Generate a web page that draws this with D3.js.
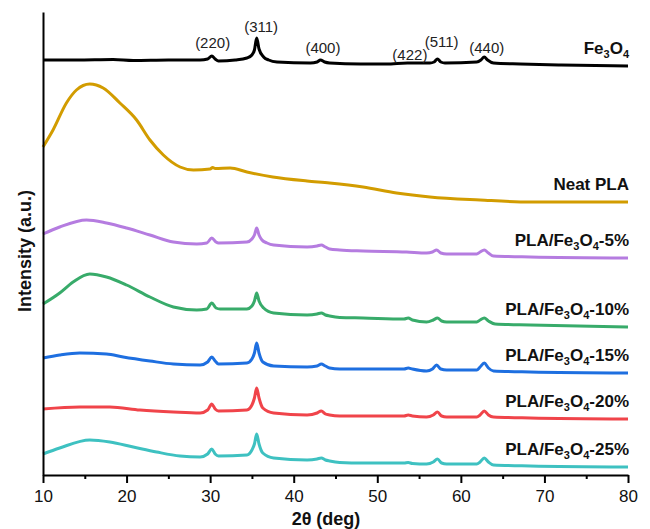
<!DOCTYPE html>
<html>
<head>
<meta charset="utf-8">
<script src="https://cdn.jsdelivr.net/npm/d3@7"></script>
<style>
  body { margin: 0; background: #fff; }
  svg { display: block; font-family: "Liberation Sans", Arial, sans-serif; }
  .axis path, .axis line { stroke: #000; stroke-width: 2; }
  .axis text { font-size: 17px; fill: #111; }
</style>
</head>
<body>
<div id="chart"></div>
<script>
// 2θ (deg) vs intensity (a.u., stacked offsets as plotted)
const fe3o4 = [[10,415],[14,415],[18.4,415.5],[20.8,414.5],[25,415],[28.8,415],[29.7,416],[30.2,419],[30.6,416],[31,414],[33,415],[34.4,417],[35,420],[35.3,425],[35.57,437],[35.85,426],[36.4,418],[37,415],[38,413],[42,412],[42.8,413],[43.2,415],[43.7,413],[44.3,412],[48,411],[51.1,411],[53.6,412],[56.3,412],[56.8,413],[57.2,416],[57.6,413],[58.1,412],[61.9,413],[62.4,415],[62.8,418],[63.2,415],[63.9,412],[67.1,411],[72,410],[80,409]];
const neatPLA = [[10,328],[11.2,345],[12.8,372],[14,385],[15.6,391],[17.2,387],[19.2,372],[21.2,355],[22.8,335],[24.4,320],[26.4,308],[28,305],[30,306],[30.3,307.5],[30.6,306.5],[32.4,307],[34.4,303],[37.5,298],[41.6,294],[44.3,292],[48.3,288],[52.3,282],[56.3,278],[62.3,275],[68.3,273],[74.3,273],[80,273]];
const pla5 = [[10,241],[12,248],[15.2,255],[17.6,252],[20,247],[22.8,240],[25.6,233],[28.4,231],[29.6,232],[30.2,237],[30.7,233],[31,232],[34.4,233],[35,236],[35.3,240],[35.57,247],[35.85,240],[36.2,235],[36.8,232],[37.6,230],[41.6,228],[42.8,229],[43.3,230],[43.8,228],[44.3,226],[45.5,225],[48.3,224],[53.5,223],[55.9,222],[56.6,223],[57.1,225],[57.6,222],[58.3,221],[61.9,221],[62.3,223],[62.8,225],[63.3,222],[63.9,219],[68.3,218],[80,217]];
const pla10 = [[10,171],[12,182],[13.6,193],[15.6,201],[17.6,198],[20,190],[22.8,178],[25.6,168],[28.4,165],[29.6,166],[30.2,172],[30.7,167],[31.2,166],[34.4,166],[35,169],[35.3,174],[35.57,182],[35.85,174],[36.4,167],[37.6,162],[41.6,160],[42.8,161],[43.3,162],[43.8,160],[44.3,159],[45.5,157.5],[48.3,157],[53.2,156],[53.7,157],[54.2,155],[55.9,153],[56.7,155],[57.2,157],[57.7,154],[58.3,153],[61.9,153],[62.3,155],[62.8,157],[63.3,154],[64.1,151],[68.3,150],[80,148]];
const pla15 = [[10,117],[12,120],[14.4,122],[17.6,121],[19.6,118],[22.8,114],[25.6,111],[28.8,110],[29.7,113],[30.2,118],[30.6,114],[31,111],[34.4,112],[35,116],[35.3,122],[35.57,132],[35.85,122],[36.3,113],[37.6,109],[41.6,108],[42.8,109],[43.3,111],[43.8,109],[44.3,107],[45.5,106],[48.3,106],[53.2,106],[53.7,107],[54.2,106],[55.9,104],[56.6,106],[57.1,110],[57.6,106],[58.3,105],[61.9,105],[62.3,108],[62.8,112],[63.3,107],[63.9,104],[68.3,103],[80,102]];
const pla20 = [[10,66],[14.4,68],[18,68],[21.6,65],[25.6,63],[28.8,62],[29.7,65],[30.2,71],[30.6,66],[31,64],[34.4,65],[35,70],[35.3,77],[35.57,87],[35.85,77],[36.3,67],[37.6,62],[41.6,60],[42.8,62],[43.3,64],[43.8,61],[44.3,60],[45.5,59],[48.3,59],[53.2,59],[53.7,60],[54.2,59],[55.9,58],[56.7,60],[57.2,63],[57.7,59],[58.3,58],[61.9,58],[62.3,60],[62.8,64],[63.3,60],[63.9,58],[68.3,57],[80,56]];
const pla25 = [[10,21],[12,27],[15.6,35],[18,33],[20.8,28],[23.6,23],[26.4,19],[28.8,18],[29.7,21],[30.2,26],[30.6,21],[31,19],[34.4,20],[35,25],[35.3,31],[35.57,41],[35.85,31],[36.3,22],[37.6,17],[41.6,15],[42.8,16],[43.3,17],[43.8,15],[44.3,14],[45.5,12.5],[48.3,12],[53.2,12],[53.7,12.5],[54.2,11.5],[55.9,11],[56.7,13],[57.2,16],[57.7,12],[58.3,11],[61.9,11],[62.3,13],[62.8,17],[63.3,13],[63.9,10],[68.3,9],[80,8]];

const seriesData = [fe3o4, neatPLA, pla5, pla10, pla15, pla20, pla25];
const seriesColors = ["#000000", "#d29c00", "#b57ce0", "#38ab6a", "#1e6fe0", "#f0444a", "#3ec1c1"];
// label: [main text, sub, text, sub, text]
const seriesLabels = [
  ["Fe", "3", "O", "4", ""],
  ["Neat PLA"],
  ["PLA/Fe", "3", "O", "4", "-5%"],
  ["PLA/Fe", "3", "O", "4", "-10%"],
  ["PLA/Fe", "3", "O", "4", "-15%"],
  ["PLA/Fe", "3", "O", "4", "-20%"],
  ["PLA/Fe", "3", "O", "4", "-25%"],
];

const hklText = ["(220)", "(311)", "(400)", "(422)", "(511)", "(440)"];
const hklAngle = [30.3, 36.1, 43.5, 53.9, 57.7, 63.1];
const hklIntensity = [427, 443, 422, 415, 428, 422];

const xTicks = [10, 20, 30, 40, 50, 60, 70, 80];
const xMinorTicks = [15, 25, 35, 45, 55, 65, 75];

const width = 650, height = 529;
const margin = { top: 12, right: 22, bottom: 54, left: 43 };

const x = d3.scaleLinear().domain([10, 80]).range([margin.left, width - margin.right]);
const y = d3.scaleLinear().domain([0, 463]).range([height - margin.bottom, margin.top]);

const svg = d3.select("#chart").append("svg")
  .attr("width", width).attr("height", height);

const line = d3.line()
  .x(d => x(d[0]))
  .y(d => y(d[1]))
  .curve(d3.curveMonotoneX);

svg.append("g")
  .selectAll("path")
  .data(seriesData)
  .join("path")
  .attr("fill", "none")
  .attr("stroke", (d, i) => seriesColors[i])
  .attr("stroke-width", 3)
  .attr("stroke-linejoin", "round")
  .attr("d", line);

// series labels, right-aligned above each curve end
const labels = svg.append("g")
  .attr("font-weight", "bold")
  .attr("font-size", 17)
  .attr("fill", "#111")
  .attr("text-anchor", "end");

seriesLabels.forEach((parts, i) => {
  const last = seriesData[i][seriesData[i].length - 1];
  const t = labels.append("text")
    .attr("x", x(80) + 1)
    .attr("y", y(last[1]) - 12);
  parts.forEach((p, j) => {
    if (!p) return;
    const sub = j % 2 === 1;
    t.append("tspan")
      .attr("font-size", sub ? 11 : 17)
      .attr("dy", sub ? "0.35em" : (j > 0 ? "-0.23em" : 0))
      .text(p);
  });
});

// Miller indices
svg.append("g")
  .attr("font-size", 15)
  .attr("fill", "#222")
  .attr("text-anchor", "middle")
  .selectAll("text")
  .data(hklText)
  .join("text")
  .attr("x", (d, i) => x(hklAngle[i]))
  .attr("y", (d, i) => y(hklIntensity[i]))
  .text(d => d);

// axes
svg.append("g")
  .attr("class", "axis")
  .attr("transform", `translate(0,${height - margin.bottom})`)
  .call(d3.axisBottom(x).tickValues(xTicks).tickSize(8).tickSizeOuter(0).tickPadding(7).tickFormat(d3.format("d")));

svg.append("g")
  .attr("class", "axis")
  .attr("transform", `translate(0,${height - margin.bottom})`)
  .call(d3.axisBottom(x).tickValues(xMinorTicks).tickSize(4).tickFormat(""))
  .call(g => g.select(".domain").remove());

svg.append("g")
  .attr("class", "axis")
  .attr("transform", `translate(${margin.left},0)`)
  .call(d3.axisLeft(y).tickValues([]).tickSizeOuter(0));

svg.append("text")
  .attr("x", 326)
  .attr("y", 525)
  .attr("text-anchor", "middle")
  .attr("font-weight", "bold")
  .attr("font-size", 18)
  .attr("fill", "#111")
  .text("2θ (deg)");

svg.append("text")
  .attr("transform", `translate(31,251) rotate(-90)`)
  .attr("text-anchor", "middle")
  .attr("font-weight", "bold")
  .attr("font-size", 18)
  .attr("fill", "#111")
  .text("Intensity (a.u.)");
</script>
</body>
</html>
